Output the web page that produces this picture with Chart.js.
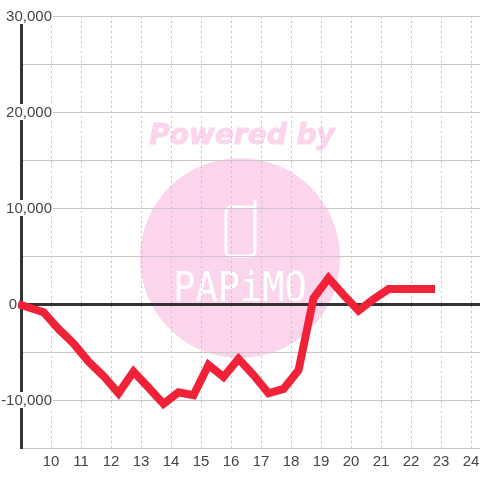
<!DOCTYPE html>
<html>
<head>
<meta charset="utf-8">
<style>
  html, body { margin: 0; padding: 0; background: #fff; }
  canvas { display: block; }
</style>
<script src="https://cdn.jsdelivr.net/npm/chart.js@4/dist/chart.umd.min.js"></script>
</head>
<body>
<canvas id="chart" width="480" height="480"></canvas>
<script>
const hours = [8.9, 9.75, 10.25, 10.75, 11.25, 11.75, 12.25, 12.75, 13.25, 13.75, 14.25, 14.75, 15.25, 15.75, 16.25, 16.75, 17.25, 17.75, 18.25, 18.75, 19.25, 19.75, 20.25, 20.75, 21.25, 21.75, 22.25, 22.8];
const values = [0, -850, -2600, -4100, -6000, -7500, -9300, -7050, -8700, -10400, -9200, -9500, -6350, -7600, -5700, -7400, -9300, -8850, -6900, 600, 2700, 950, -700, 500, 1550, 1550, 1550, 1550];
const yLabelled = [30000, 20000, 10000, 0, -10000];

const labelColor = '#444';
const pink = '#fbd5ec';

// background logo, sits under the grid
const watermark = {
  id: 'watermark',
  beforeDraw(chart) {
    const c = chart.ctx;
    c.save();
    c.fillStyle = pink;
    c.strokeStyle = pink;
    c.beginPath();
    c.arc(240, 258, 100, 0, Math.PI * 2);
    c.fill();
    c.font = 'italic bold 28px "DejaVu Sans"';
    c.textAlign = 'center';
    c.textBaseline = 'middle';
    c.lineWidth = 1;
    c.fillText('Powered by', 242, 137);
    c.strokeText('Powered by', 242, 137);

    c.strokeStyle = '#fff';
    c.lineWidth = 3;
    c.lineCap = 'round';
    c.beginPath();
    c.moveTo(255, 201);
    c.lineTo(255, 251);
    c.quadraticCurveTo(255, 256, 250, 256);
    c.lineTo(231, 256);
    c.quadraticCurveTo(226, 256, 226, 251);
    c.lineTo(226, 212);
    c.quadraticCurveTo(226, 207, 231, 207);
    c.lineTo(252, 207);
    c.stroke();

    c.fillStyle = '#fff';
    c.translate(240, 290);
    c.scale(0.9, 1);
    c.font = '41px "DejaVu Sans Mono"';
    c.fillText('PAPiMO', 0, 0);
    c.restore();
  }
};

// y labels have a white box over the axis and grid, 0 sits further left
const yLabels = {
  id: 'yLabels',
  afterDraw(chart) {
    const c = chart.ctx;
    const y = chart.scales.y;
    c.save();
    c.font = '15px "Liberation Sans"';
    c.textBaseline = 'middle';
    c.textAlign = 'right';
    yLabelled.forEach(function (v) {
      const py = y.getPixelForValue(v);
      const text = v.toLocaleString('en-US');
      const right = v === 0 ? 17 : 52;
      const w = c.measureText(text).width;
      c.fillStyle = '#fff';
      c.fillRect(right - w - 1, py - 8, w + 2, 16);
      c.fillStyle = labelColor;
      c.fillText(text, right, py + 1);
    });
    c.restore();
  }
};

new Chart(document.getElementById('chart').getContext('2d'), {
  type: 'line',
  data: {
    datasets: [{
      data: hours.map((h, i) => ({ x: h, y: values[i] })),
      borderColor: '#f02238',
      borderWidth: 8,
      pointRadius: 0,
      tension: 0,
      fill: false,
      clip: false,
    }],
  },
  options: {
    responsive: false,
    animation: false,
    events: [],
    layout: { padding: { top: 16 } },
    plugins: { legend: { display: false }, tooltip: { enabled: false } },
    scales: {
      x: {
        type: 'linear',
        min: 9,
        max: 24.3,
        afterFit: s => { s.height = 32; s.paddingLeft = 0; s.paddingRight = 0; },
        grid: { color: '#c4c4c4', drawTicks: false },
        border: { display: false, dash: [2, 3] },
        ticks: {
          stepSize: 1,
          includeBounds: false,
          autoSkip: false,
          maxRotation: 0,
          padding: 5,
          color: labelColor,
          font: { family: '"Liberation Sans"', size: 15 },
          callback: v => (v === 9 ? '' : String(v)),
        },
      },
      y: {
        min: -15000,
        max: 30000,
        afterFit: s => { s.width = 21; },
        grid: {
          drawTicks: false,
          color: ctx => (ctx.tick && ctx.tick.value === 0 ? '#333' : '#c8c8c8'),
          lineWidth: ctx => (ctx.tick && ctx.tick.value === 0 ? 3 : 1),
        },
        border: { display: true, color: '#333', width: 3 },
        ticks: { stepSize: 5000, display: false },
      },
    },
  },
  plugins: [watermark, yLabels],
});
</script>
</body>
</html>
